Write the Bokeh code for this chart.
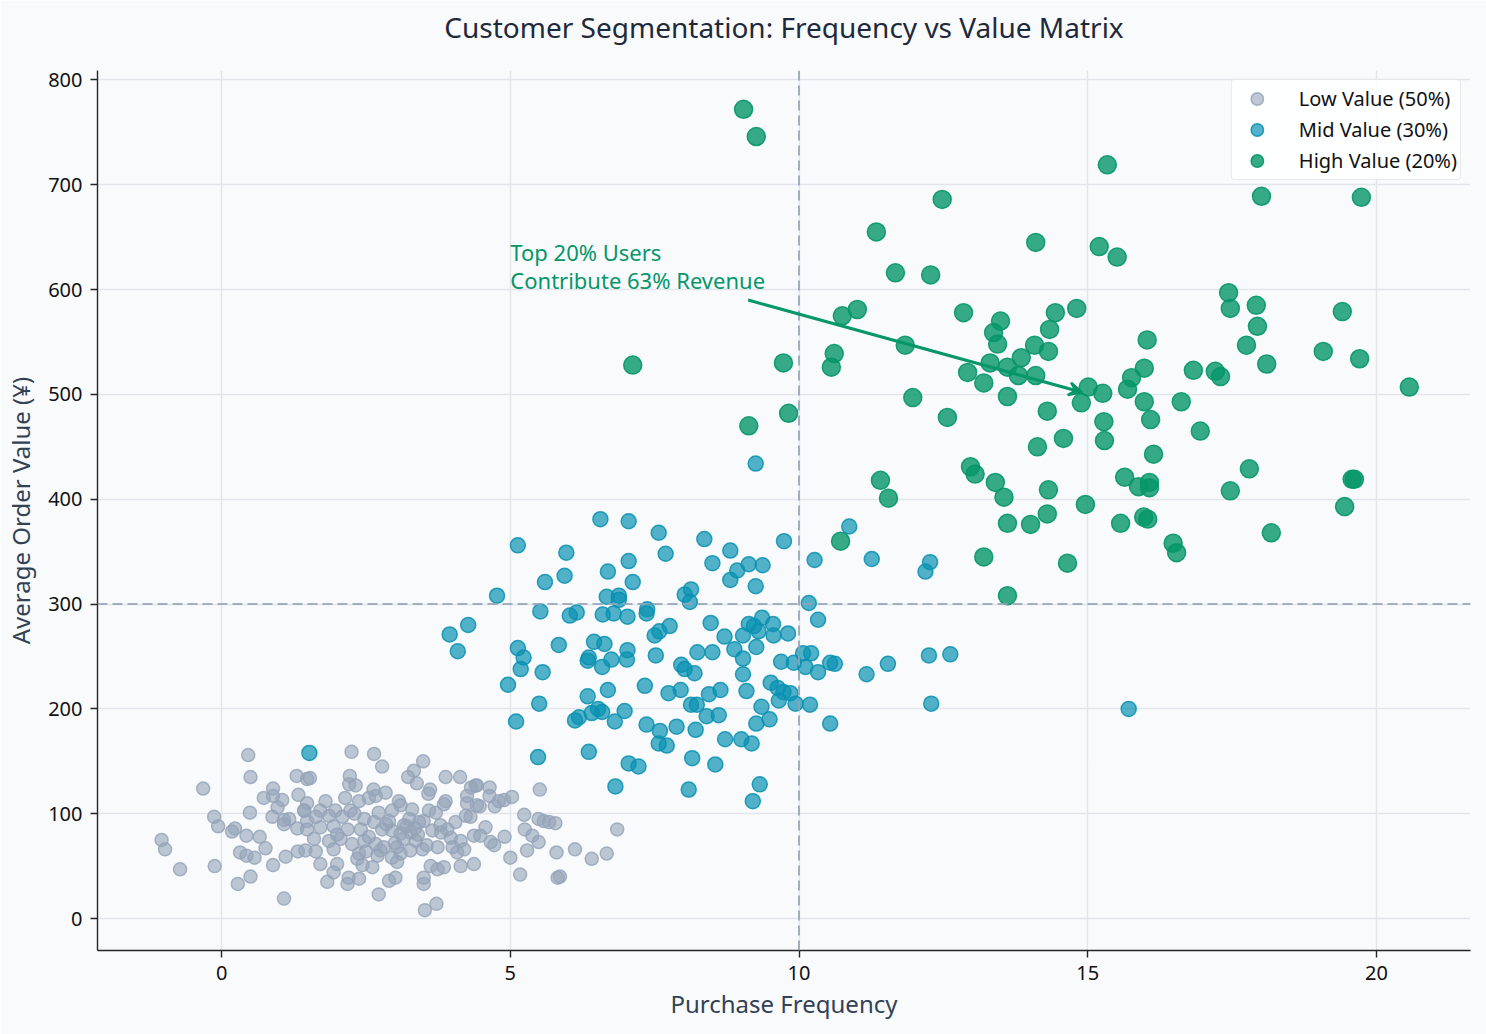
from bokeh.plotting import figure
from bokeh.models import Span, Label, Arrow, VeeHead, Range1d, FixedTicker, Legend, LegendItem, Title
from bokeh.embed import file_html
from bokeh.resources import INLINE

# ---------------- data ----------------
low_x = [0.46, 0.50, -0.32, 0.89, 0.73, 0.89, 1.05, 1.33, 1.30, 1.48, 0.97, -0.13, -0.06, 0.49, 0.88, 1.08, 1.17,
         1.08, 1.31, 1.43, 1.48, 0.23, 0.18, 0.43, 0.66, 0.76, -1.04, -0.98, -0.72, -0.12, 0.32, 0.43, 0.57, 0.89,
         1.11, 1.32, 0.28, 0.50, 1.08,
         2.25, 2.64, 2.78, 1.53, 2.22, 2.21, 2.32, 3.49, 3.33, 3.23, 3.38, 3.61, 3.58, 3.88, 4.13, 4.32, 4.42, 2.63,
         2.84, 2.14, 1.80, 1.48, 2.38, 2.55, 2.67, 3.07, 3.10, 3.30, 3.88, 3.85, 4.25, 4.42, 3.59, 3.71, 2.95, 2.72,
         2.23, 1.97, 1.71, 1.43, 1.63, 1.86, 2.09, 2.47, 2.64, 2.90, 3.16, 3.42, 3.50, 3.79, 4.05, 4.23, 4.37, 1.48,
         1.71, 1.94, 2.18, 2.41, 2.78, 2.95, 3.10, 3.27, 3.36, 3.65, 3.91, 3.97, 4.14, 1.60, 1.86, 2.06, 2.26, 2.47,
         2.67, 2.81, 3.04, 3.10, 3.27, 3.48, 3.74, 4.08, 4.20, 1.45, 1.63, 1.94, 2.38, 2.75, 1.71, 2.00, 2.35, 2.44,
         2.61, 3.04, 3.62, 3.74, 3.85, 4.14, 4.37, 1.94, 2.20, 2.18, 1.83, 2.38, 2.90, 3.01, 3.50, 3.50, 2.72, 3.52,
         3.72, 4.25,
         5.51, 4.40, 4.64, 4.64, 4.80, 4.89, 5.03, 4.73, 4.47, 5.24, 5.49, 5.58, 5.67, 5.78, 5.25, 5.38, 5.49, 4.90,
         4.57, 4.48, 4.66, 4.72, 5.29, 5.00, 5.80, 6.12, 6.41, 6.67, 5.17, 5.82, 5.86, 6.85, 4.31,
         2.00, 2.55, 3.00, 3.20, 3.40, 2.85, 3.15, 3.55, 2.30, 2.70, 3.25, 3.80, 2.50, 2.95, 3.35, 4.00]
low_y = [156, 135, 124, 124, 115, 117, 113, 118, 136, 133, 106, 97, 88, 101, 97, 94, 95,
         90, 86, 103, 93, 86, 83, 79, 78, 67, 75, 66, 47, 50, 63, 60, 58, 51,
         59, 64, 33, 40, 19,
         159, 157, 145, 134, 136, 128, 127, 150, 141, 135, 129, 123, 119, 135, 135, 125, 127, 123,
         120, 115, 112, 110, 112, 115, 117, 112, 108, 104, 112, 109, 110, 108, 103, 101, 103, 101,
         103, 103, 103, 103, 97, 98, 97, 95, 92, 93, 89, 92, 93, 89, 92, 98, 79, 85,
         87, 88, 85, 85, 85, 84, 81, 82, 74, 84, 85, 77, 74, 76, 74, 76, 71, 74,
         71, 68, 68, 62, 65, 66, 68, 63, 66, 65, 64, 66, 62, 65, 52, 52, 57, 51,
         49, 54, 50, 47, 49, 50, 52, 44, 39, 33, 35, 38, 36, 39, 39, 33, 23, 8,
         14, 117,
         123, 127, 125, 117, 112, 113, 116, 107, 107, 99, 95, 93, 92, 91, 85, 79, 73, 78,
         87, 79, 73, 70, 65, 58, 63, 66, 57, 62, 42, 39, 40, 85, 97,
         80, 78, 72, 88, 80, 90, 76, 70, 100, 60, 95, 82, 64, 58, 86, 68]

mid_x = [6.56, 7.05, 7.57, 8.36, 5.13, 5.97, 7.69, 7.05, 6.69, 5.94, 5.60, 7.12, 4.77, 6.67, 6.88, 6.88, 8.02,
         8.13, 8.11, 5.52, 6.03, 6.15, 6.60, 6.79, 7.03, 7.37, 7.36, 3.95, 4.27, 4.09, 5.13, 5.23, 5.18, 5.56,
         5.84, 6.45, 6.63, 6.36, 6.34, 6.59, 6.75, 7.03, 7.02, 7.50, 7.58, 7.76, 7.52, 7.96, 8.02, 8.19, 8.24,
         4.96, 5.50, 5.10, 6.69, 7.33, 7.74, 7.95, 6.34, 6.41, 6.52, 6.59, 6.12, 6.19, 6.98, 6.81, 7.36, 7.59,
         7.57, 7.71, 7.88, 8.13, 8.21, 8.15, 5.48, 6.36, 7.05, 7.22, 6.82, 8.09, 8.23, 1.52,
         10.87, 8.81, 9.74, 8.50, 8.93, 9.13, 9.37, 8.81, 9.25, 10.27, 11.26, 12.27, 12.19, 10.17, 10.33, 8.47,
         9.13, 9.22, 9.36, 9.55, 9.30, 9.56, 9.81, 9.03, 8.71, 9.26, 8.88, 8.50, 9.03, 10.07, 10.21, 9.69, 9.91,
         10.11, 10.33, 10.54, 10.62, 11.17, 11.54, 12.25, 12.62, 12.29, 9.03, 9.51, 9.63, 9.73, 9.85, 9.65, 9.94,
         10.19, 9.09, 8.44, 8.64, 9.35, 9.49, 9.26, 8.40, 8.61, 8.72, 9.00, 9.18, 10.54, 8.55, 9.32, 9.20,
         9.25, 15.71]
mid_y = [381, 379, 368, 362, 356, 349, 348, 341, 331, 327, 321, 321, 308, 307, 308, 304, 309,
         314, 302, 293, 289, 292, 290, 291, 288, 295, 291, 271, 280, 255, 258, 249, 238, 235,
         261, 264, 262, 249, 246, 240, 247, 256, 247, 270, 274, 279, 251, 242, 238, 234, 254,
         223, 205, 188, 218, 222, 215, 218, 212, 196, 200, 197, 189, 192, 198, 188, 185, 179,
         167, 165, 183, 204, 180, 153, 154, 159, 148, 145, 126, 123, 204, 158,
         374, 351, 360, 339, 332, 338, 337, 323, 317, 342, 343, 340, 331, 301, 285, 282,
         281, 279, 287, 281, 274, 270, 272, 270, 269, 259, 257, 254, 248, 253, 253, 245, 244,
         240, 235, 244, 243, 233, 243, 251, 252, 205, 233, 225, 220, 216, 215, 208, 205,
         204, 217, 214, 218, 202, 190, 186, 193, 194, 171, 171, 167, 186, 147, 128, 112,
         434, 200]

high_x = [9.04, 9.26, 15.34, 12.48, 18.01, 19.74, 11.34, 14.10, 15.20, 15.51, 11.67, 12.28, 17.44, 17.92,
          14.81, 11.01, 17.47, 12.85, 19.41, 10.75, 14.44, 13.49, 14.34, 17.94, 13.37, 11.84, 13.44, 16.03,
          14.08, 17.75, 19.08, 14.32, 13.85, 10.61, 19.71, 13.31, 18.10, 13.61, 7.12, 9.73, 10.56, 15.98,
          16.83, 17.21, 17.30, 13.80, 14.10, 15.76, 15.69, 12.92, 13.20, 15.01, 15.26, 20.57, 11.97, 13.61,
          14.89, 15.98, 16.62, 9.82, 12.57, 14.30, 15.28, 16.09, 9.13, 16.95, 15.29, 14.58, 14.13, 16.14,
          12.97, 13.05, 17.80, 15.64, 19.58, 19.62, 11.41, 13.40, 16.07, 16.07, 15.88, 14.32, 17.47, 11.55,
          13.55, 14.96, 19.45, 14.30, 15.97, 16.04, 15.57, 13.61, 14.01, 18.18, 10.72, 16.48, 16.54, 13.20,
          14.65, 13.61]
high_y = [772, 746, 719, 686, 689, 688, 655, 645, 641, 631, 616, 614, 597, 585,
          582, 581, 582, 578, 579, 575, 578, 570, 562, 565, 559, 547, 548, 552,
          547, 547, 541, 541, 535, 539, 534, 530, 529, 526, 528, 530, 526, 525,
          523, 522, 517, 518, 518, 516, 505, 521, 511, 507, 501, 507, 497, 498,
          492, 493, 493, 482, 478, 484, 474, 476, 470, 465, 456, 458, 450, 443,
          431, 424, 429, 421, 419, 419, 418, 416, 416, 411, 412, 409, 408, 401,
          402, 395, 393, 386, 383, 381, 377, 377, 376, 368, 360, 358, 349, 345,
          339, 308]

labels = ["Low Value (50%)", "Mid Value (30%)", "High Value (20%)"]
x_ticks = [0, 5, 10, 15, 20]
y_ticks = [0, 100, 200, 300, 400, 500, 600, 700, 800]
freq_threshold = 10
value_threshold = 300
title_text = "Customer Segmentation: Frequency vs Value Matrix"
annot_text = "Top 20% Users\nContribute 63% Revenue"
annot_pos = (5.0, 600)
arrow_start = (9.12, 590)
arrow_end = (14.9, 502)

# ---------------- figure ----------------
BG = "#f8fafc"
FONT = "Noto Sans"

p = figure(width=1486, height=1034, output_backend="svg", toolbar_location=None,
           x_range=Range1d(-2.15, 21.63), y_range=Range1d(-30.5, 809),
           min_border_left=97, min_border_right=16, min_border_top=70, min_border_bottom=84,
           background_fill_color=BG, border_fill_color=BG)

# spacer between frame and title (innermost item of the "above" panel)
p.add_layout(Title(text=" ", text_font_size="1px", standoff=22, text_color=BG), "above")

p.title.text = title_text
p.title.align = "center"
p.title.text_font = FONT
p.title.text_font_size = "28px"
p.title.text_font_style = "normal"
p.title.text_color = "#1e293b"
p.title.offset = 0
p.title.standoff = 0

for ax in (p.xaxis[0], p.yaxis[0]):
    ax.axis_line_color = "#262626"
    ax.axis_line_width = 1.4
    ax.major_tick_line_color = "#262626"
    ax.major_tick_line_width = 1.4
    ax.major_tick_out = 7
    ax.major_tick_in = 0
    ax.minor_tick_line_color = None
    ax.major_label_text_font = FONT
    ax.major_label_text_font_size = "20px"
    ax.major_label_text_color = "#111111"
    ax.major_label_standoff = 8
    ax.axis_label_text_font = FONT
    ax.axis_label_text_font_size = "24px"
    ax.axis_label_text_font_style = "normal"
    ax.axis_label_text_color = "#334155"

p.xaxis.ticker = FixedTicker(ticks=x_ticks)
p.yaxis.ticker = FixedTicker(ticks=y_ticks)
p.xaxis.axis_label = "Purchase Frequency"
p.yaxis.axis_label = "Average Order Value (¥)"
p.xaxis.axis_label_standoff = 4
p.yaxis.axis_label_standoff = 8
p.outline_line_color = None

p.xgrid.grid_line_color = "#e2e5ea"
p.ygrid.grid_line_color = "#e2e5ea"
p.xgrid.grid_line_width = 1.4
p.ygrid.grid_line_width = 1.4

r_low = p.scatter(low_x, low_y, size=13, marker="circle", fill_color="#94a3b8", fill_alpha=0.6,
                  line_color="#94a3b8", line_alpha=0.8, line_width=1.5)
r_mid = p.scatter(mid_x, mid_y, size=15, marker="circle", fill_color="#0891b2", fill_alpha=0.7,
                  line_color="#0891b2", line_alpha=0.85, line_width=1.5)
r_high = p.scatter(high_x, high_y, size=18, marker="circle", fill_color="#059669", fill_alpha=0.8,
                   line_color="#059669", line_alpha=0.9, line_width=1.5)

p.add_layout(Span(location=freq_threshold, dimension="height", line_color="#94a3b8",
                  line_dash="10 5", line_width=2, line_alpha=0.85))
p.add_layout(Span(location=value_threshold, dimension="width", line_color="#94a3b8",
                  line_dash="10 5", line_width=2, line_alpha=0.85))

p.add_layout(Label(x=annot_pos[0], y=annot_pos[1], y_offset=-5, text=annot_text, text_font=FONT,
                   text_font_size="22px", text_color="#059669", text_align="left",
                   text_baseline="bottom", text_line_height=0.92))
p.add_layout(Arrow(x_start=arrow_start[0], y_start=arrow_start[1], x_end=arrow_end[0], y_end=arrow_end[1],
                   line_color="#059669", line_width=3,
                   end=VeeHead(size=13, line_color="#059669", fill_color="#059669", line_width=2.5)))

legend = Legend(items=[LegendItem(label=labels[0], renderers=[r_low]),
                       LegendItem(label=labels[1], renderers=[r_mid]),
                       LegendItem(label=labels[2], renderers=[r_high])],
                location="top_right")
legend.label_text_font = FONT
legend.label_text_font_size = "20px"
legend.label_text_color = "#111111"
legend.background_fill_color = "#ffffff"
legend.background_fill_alpha = 0.85
legend.border_line_color = "#d4d4d8"
legend.border_line_width = 1.5
legend.border_radius = 4
legend.glyph_width = 44
legend.glyph_height = 31
legend.label_height = 31
legend.spacing = 0
legend.padding = 3
legend.margin = 9
legend.label_standoff = 20
p.add_layout(legend)

open("out.html", "w").write(file_html(p, INLINE))
